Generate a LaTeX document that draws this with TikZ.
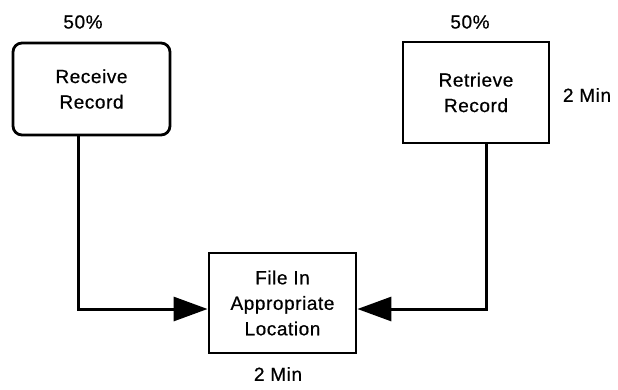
\documentclass[tikz,border=0pt]{standalone}
\usepackage{fontspec}
\setmainfont{Liberation Sans}[LetterSpace=3, FakeBold=0.6]
\usetikzlibrary{arrows.meta}
\begin{document}
\begin{tikzpicture}[x=1pt,y=-1pt,
  every node/.style={font=\fontsize{19}{25.5}\selectfont, inner sep=0pt},
  procbox/.style={draw, line width=2.8pt, align=center},
  lbl/.style={},
  flow/.style={line width=3pt, -{Triangle[length=34pt, width=24pt]}}]
\useasboundingbox (0,0) rectangle (618,389);
\node[procbox, rounded corners=9pt, minimum width=157pt, minimum height=92pt] (rec) at (91.5,89) {Receive\\Record};
\node[procbox, minimum width=146pt, minimum height=101pt] (ret) at (476,92.5) {Retrieve\\Record};
\node[procbox, minimum width=147pt, minimum height=100pt] (file) at (282.5,303) {File In\\Appropriate\\Location};
\node[lbl] (p1) at (83,22) {50\%};
\node[lbl] (p2) at (470,22) {50\%};
\node[lbl] (t1) at (587,95) {2 Min};
\node[lbl] (t2) at (278,374) {2 Min};
\coordinate (lc) at (78,309);
\coordinate (rc) at (486,309);
\draw[flow] (rec.south -| lc) -- (lc) -- (lc -| file.west);
\draw[flow] (ret.south -| rc) -- (rc) -- (rc -| file.east);
\end{tikzpicture}
\end{document}
